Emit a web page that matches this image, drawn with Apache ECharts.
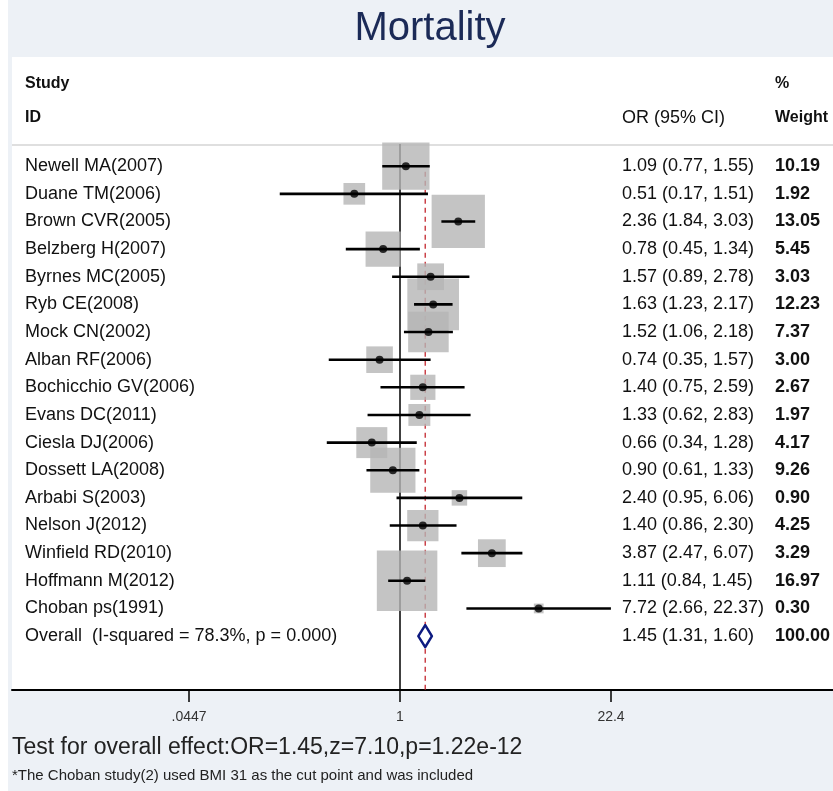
<!DOCTYPE html>
<html>
<head>
<meta charset="utf-8">
<script src="https://cdn.jsdelivr.net/npm/echarts@6/dist/echarts.min.js"></script>
<style>
  html, body { margin: 0; padding: 0; background: #ffffff; }
  #chart { width: 833px; height: 791px; }
</style>
</head>
<body>
<div id="chart"></div>
<script>
// Forest plot data: odds ratios, 95% CIs and % weights per study
const studies = [
  'Newell MA(2007)', 'Duane TM(2006)', 'Brown CVR(2005)', 'Belzberg H(2007)',
  'Byrnes MC(2005)', 'Ryb CE(2008)', 'Mock CN(2002)', 'Alban RF(2006)',
  'Bochicchio GV(2006)', 'Evans DC(2011)', 'Ciesla DJ(2006)', 'Dossett LA(2008)',
  'Arbabi S(2003)', 'Nelson J(2012)', 'Winfield RD(2010)', 'Hoffmann M(2012)',
  'Choban ps(1991)'
];
const orValues = [1.09, 0.51, 2.36, 0.78, 1.57, 1.63, 1.52, 0.74, 1.40, 1.33, 0.66, 0.90, 2.40, 1.40, 3.87, 1.11, 7.72];
const ciLower  = [0.77, 0.17, 1.84, 0.45, 0.89, 1.23, 1.06, 0.35, 0.75, 0.62, 0.34, 0.61, 0.95, 0.86, 2.47, 0.84, 2.66];
const ciUpper  = [1.55, 1.51, 3.03, 1.34, 2.78, 2.17, 2.18, 1.57, 2.59, 2.83, 1.28, 1.33, 6.06, 2.30, 6.07, 1.45, 22.37];
const weights  = [10.19, 1.92, 13.05, 5.45, 3.03, 12.23, 7.37, 3.00, 2.67, 1.97, 4.17, 9.26, 0.90, 4.25, 3.29, 16.97, 0.30];

const overallLabel = 'Overall  (I-squared = 78.3%, p = 0.000)';
const overallOR = 1.45;
const overallLower = 1.31;
const overallUpper = 1.60;
const overallWeight = 100.00;

const tickValues = [0.0447, 1, 22.4];
const tickLabels = ['.0447', '1', '22.4'];

// x axis is the natural log of the odds ratio
const ln = Math.log;
const FONT = "'Liberation Sans', Arial, sans-serif";
const overallRow = studies.length;

const rowLabels = studies.concat([overallLabel]);
const ciTexts = orValues.map((v, i) => `${v.toFixed(2)} (${ciLower[i].toFixed(2)}, ${ciUpper[i].toFixed(2)})`)
  .concat([`${overallOR.toFixed(2)} (${overallLower.toFixed(2)}, ${overallUpper.toFixed(2)})`]);
const weightTexts = weights.map(w => w.toFixed(2)).concat([overallWeight.toFixed(2)]);

function textColumn(x, texts, fontWeight, align) {
  return {
    type: 'custom',
    silent: true,
    z: 10,
    data: texts.map((t, i) => [0, i]),
    renderItem(params, api) {
      const y = api.coord([0, api.value(1)])[1];
      return {
        type: 'text',
        style: {
          text: texts[params.dataIndex],
          x: x, y: y,
          fill: '#111',
          font: `${fontWeight} 18px ${FONT}`,
          align: align,
          verticalAlign: 'middle'
        }
      };
    }
  };
}

const chart = echarts.init(document.getElementById('chart'), null, { renderer: 'canvas' });

const yTop = -0.8;
const yMin = -3.95, yMax = 18.95;

chart.setOption({
  backgroundColor: '#edf1f6',
  animation: false,
  grid: {
    left: 12, right: 0, top: 57, bottom: 101,
    show: true, backgroundColor: '#ffffff', borderWidth: 0
  },
  xAxis: {
    type: 'value',
    min: -5.717,
    max: 6.38,
    axisLine: { show: true, onZero: false, lineStyle: { color: '#000', width: 2 } },
    axisTick: { show: true, length: 12, lineStyle: { color: '#000', width: 1.5 },
                customValues: tickValues.map(ln) },
    axisLabel: {
      customValues: tickValues.map(ln),
      margin: 20,
      color: '#333',
      fontSize: 14,
      fontFamily: FONT,
      formatter(v) {
        let best = 0;
        tickValues.forEach((t, i) => { if (Math.abs(ln(t) - v) < Math.abs(ln(tickValues[best]) - v)) best = i; });
        return tickLabels[best];
      }
    },
    splitLine: { show: false }
  },
  yAxis: {
    type: 'value', inverse: true, min: yMin, max: yMax, show: false
  },
  graphic: [
    { type: 'rect', left: 0, top: 0, shape: { width: 8, height: 791 }, style: { fill: '#ffffff' }, z: 100 },
    { type: 'text', x: 430, y: 29, style: { text: 'Mortality', font: `normal 40px ${FONT}`, fill: '#1b2a57', align: 'center', verticalAlign: 'middle' } },
    { type: 'text', x: 25, y: 84, style: { text: 'Study', font: `bold 16px ${FONT}`, fill: '#111', verticalAlign: 'middle' } },
    { type: 'text', x: 25, y: 118, style: { text: 'ID', font: `bold 16px ${FONT}`, fill: '#111', verticalAlign: 'middle' } },
    { type: 'text', x: 622, y: 118, style: { text: 'OR (95% CI)', font: `normal 18px ${FONT}`, fill: '#111', verticalAlign: 'middle' } },
    { type: 'text', x: 775, y: 84, style: { text: '%', font: `bold 16px ${FONT}`, fill: '#111', verticalAlign: 'middle' } },
    { type: 'text', x: 775, y: 118, style: { text: 'Weight', font: `bold 16px ${FONT}`, fill: '#111', verticalAlign: 'middle' } },
    { type: 'line', shape: { x1: 12, y1: 145, x2: 833, y2: 145 }, style: { stroke: '#d4d4d4', lineWidth: 1.5 } },
    { type: 'text', x: 12, y: 748, style: { text: 'Test for overall effect:OR=1.45,z=7.10,p=1.22e-12', font: `normal 23px ${FONT}`, fill: '#222', verticalAlign: 'middle' } },
    { type: 'text', x: 12, y: 776, style: { text: '*The Choban study(2) used BMI 31 as the cut point and was included', font: `normal 15px ${FONT}`, fill: '#222', verticalAlign: 'middle' } }
  ],
  series: [
    // line of no effect
    {
      type: 'line', z: 1, symbol: 'none', silent: true,
      data: [[0, yTop], [0, yMax]],
      lineStyle: { color: '#000', width: 1.5 }
    },
    // pooled estimate reference line
    {
      type: 'line', z: 1, symbol: 'none', silent: true,
      data: [[ln(overallOR), yTop + 1], [ln(overallOR), yMax]],
      lineStyle: { color: '#c4262e', width: 1.3, type: [5, 4] }
    },
    // weight boxes
    {
      type: 'scatter', z: 2, silent: true,
      symbol: 'rect',
      data: orValues.map((v, i) => [ln(v), i, weights[i]]),
      symbolSize: (d) => 14.2 * Math.sqrt(d[2]) + 2,
      itemStyle: { color: '#b5b5b5' }
    },
    // confidence intervals
    {
      type: 'custom', z: 3, silent: true,
      data: orValues.map((v, i) => [ln(ciLower[i]), ln(ciUpper[i]), i]),
      encode: { x: [0, 1], y: 2 },
      renderItem(params, api) {
        const a = api.coord([api.value(0), api.value(2)]);
        const b = api.coord([api.value(1), api.value(2)]);
        return { type: 'line', shape: { x1: a[0], y1: a[1], x2: b[0], y2: b[1] },
                 style: { stroke: '#000', lineWidth: 2.6 } };
      }
    },
    // point estimates
    {
      type: 'scatter', z: 4, silent: true,
      symbol: 'circle', symbolSize: 8,
      data: orValues.map((v, i) => [ln(v), i]),
      itemStyle: { color: '#000' }
    },
    // pooled diamond
    {
      type: 'custom', z: 4, silent: true,
      data: [[ln(overallLower), ln(overallOR), ln(overallUpper), overallRow]],
      encode: { x: [0, 1, 2], y: 3 },
      renderItem(params, api) {
        const r = api.value(3);
        const l = api.coord([api.value(0), r]);
        const c = api.coord([api.value(1), r]);
        const u = api.coord([api.value(2), r]);
        const h = 11;
        return { type: 'polygon',
                 shape: { points: [[l[0], l[1]], [c[0], c[1] - h], [u[0], u[1]], [c[0], c[1] + h]] },
                 style: { fill: '#fff', stroke: '#0d1a80', lineWidth: 2.5, lineJoin: 'round' } };
      }
    },
    textColumn(25, rowLabels, 'normal', 'left'),
    textColumn(622, ciTexts, 'normal', 'left'),
    textColumn(775, weightTexts, 'bold', 'left')
  ]
});
</script>
</body>
</html>
